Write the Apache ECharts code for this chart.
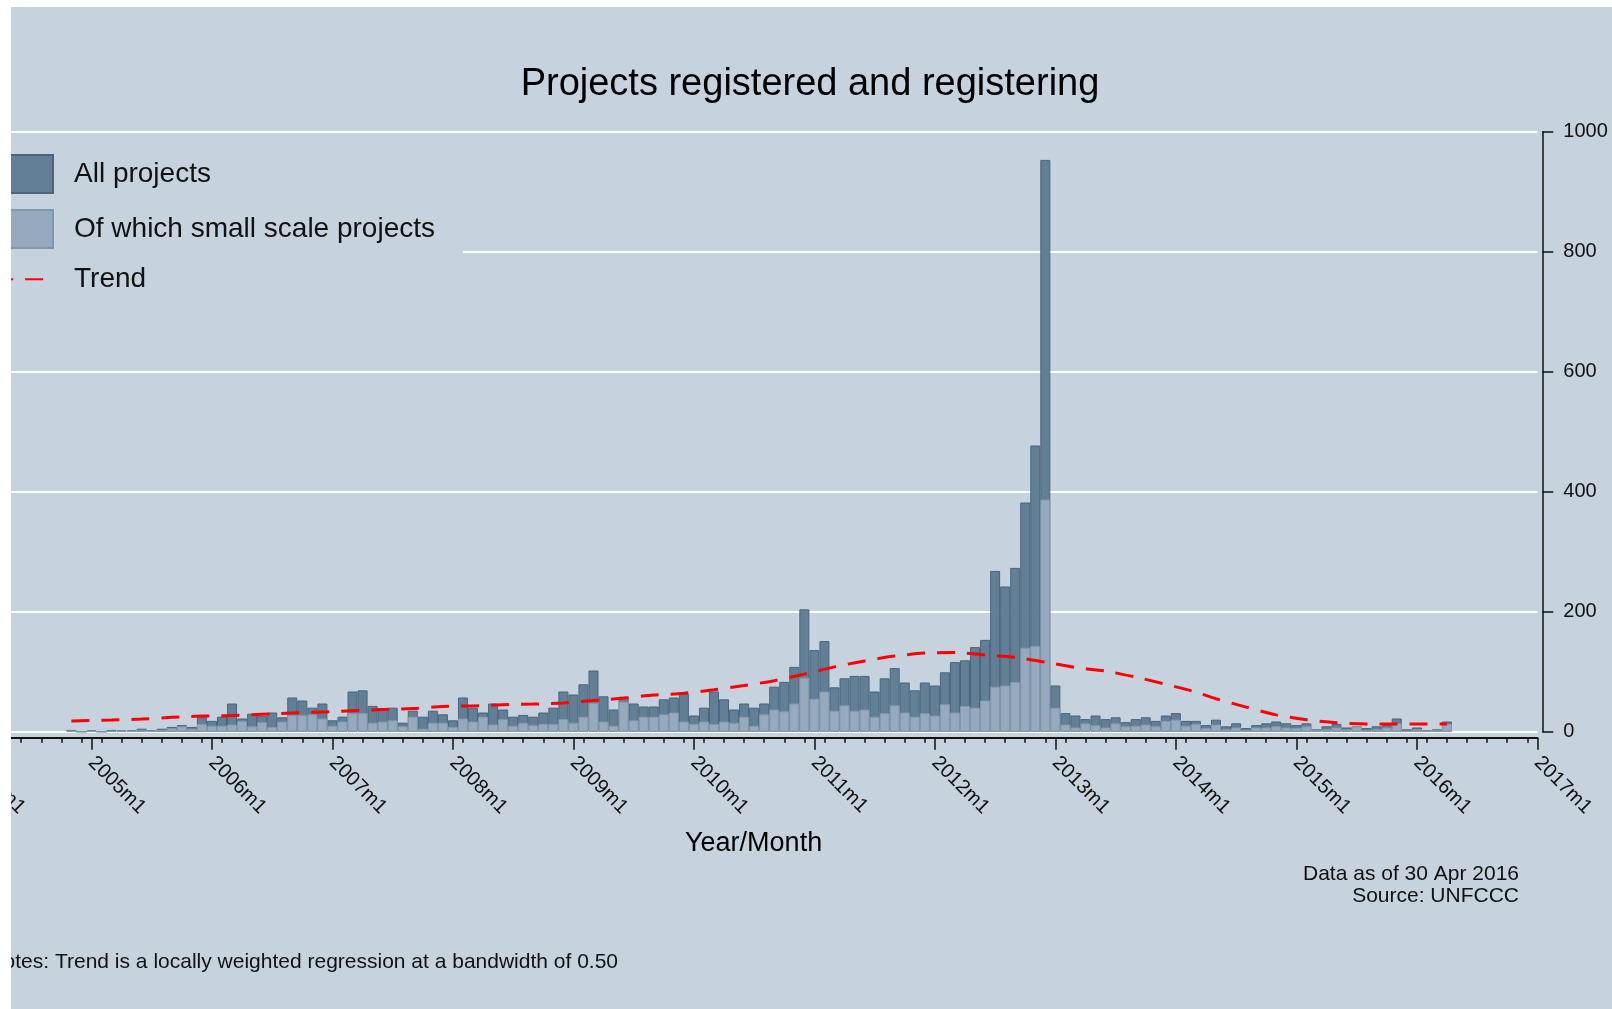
<!DOCTYPE html>
<html>
<head>
<meta charset="utf-8">
<title>Projects registered and registering</title>
<script src="https://cdn.jsdelivr.net/npm/echarts@6/dist/echarts.min.js"></script>
<style>
  html, body { margin: 0; padding: 0; background: #fff; }
  #chart { width: 1612px; height: 1009px; }
</style>
</head>
<body>
<div id="chart"></div>
<script>
// months counted from 2005m1 (= 0); bars start at 2004m11
var firstMonth = -2

var allProjects = [
  3, 0,
  2, 0, 3, 2, 2, 5, 2, 5, 8, 11, 8, 25,
  18, 25, 47, 22, 30, 26, 32, 24, 57, 52, 40, 47,
  19, 25, 67, 69, 43, 39, 40, 15, 35, 25, 35, 29,
  19, 57, 40, 32, 47, 37, 25, 28, 25, 32, 40, 67,
  62, 79, 102, 59, 37, 58, 47, 42, 42, 54, 57, 63,
  27, 40, 67, 54, 37, 47, 40, 47, 75, 83, 108, 204,
  136, 151, 74, 89, 93, 93, 67, 89, 106, 82, 69, 82,
  77, 99, 116, 119, 141, 153, 268, 242, 273, 382, 477, 953,
  77, 31, 27, 21, 27, 21, 24, 16, 21, 24, 18, 27,
  31, 18, 18, 11, 20, 9, 14, 6, 11, 14, 17, 14,
  11, 14, 4, 9, 13, 7, 9, 6, 9, 11, 22, 4,
  7, 2, 4, 17
]

var smallScale = [
  2, 0,
  1, 0, 2, 2, 1, 3, 1, 3, 6, 9, 5, 13,
  10, 10, 12, 18, 9, 16, 8, 17, 28, 28, 29, 22,
  10, 17, 31, 31, 15, 17, 19, 9, 25, 5, 15, 15,
  8, 22, 17, 25, 12, 21, 10, 15, 11, 13, 13, 21,
  15, 25, 48, 17, 10, 50, 19, 25, 25, 29, 32, 17,
  13, 17, 13, 17, 15, 25, 10, 29, 37, 34, 47, 90,
  55, 67, 35, 44, 35, 37, 25, 31, 44, 32, 25, 31,
  27, 46, 32, 43, 40, 52, 75, 77, 83, 140, 143, 387,
  40, 12, 7, 14, 11, 7, 14, 9, 10, 12, 9, 18,
  20, 10, 13, 6, 12, 4, 7, 3, 7, 7, 9, 7,
  6, 9, 3, 4, 7, 4, 9, 3, 4, 7, 14, 2,
  4, 1, 3, 13
]

// lowess trend
var trendMonths = [-2, 2, 5, 8, 11, 14, 17, 20, 23, 26, 29, 32, 35, 38, 41, 44, 47, 50, 53, 56, 59, 62, 65, 68, 71, 74, 77, 80, 83, 86, 89, 92, 95, 98, 101, 104, 107, 110, 112, 115, 118, 121, 124, 127, 130, 133, 135]
var trendValues = [18, 19.5, 21, 24, 26, 27, 29, 31, 33, 35, 37, 38.5, 42, 43, 45, 46, 48, 52, 56, 61, 64, 70, 77, 85, 96, 108, 118, 126, 131, 132, 128, 124, 116, 107, 101, 91, 79, 66, 55, 41, 28, 20, 15, 13, 13, 13, 13]

var yearLabels = ['2003m1', '2004m1', '2005m1', '2006m1', '2007m1', '2008m1', '2009m1', '2010m1', '2011m1', '2012m1', '2013m1', '2014m1', '2015m1', '2016m1', '2017m1']
var minorTickMonths = []
for (var m = -23; m < 144; m += 2) minorTickMonths.push(m)

var bg = '#c6d2de'
var font = 'Liberation Sans, Arial, sans-serif'

var chart = echarts.init(document.getElementById('chart'))

chart.setOption({
  animation: false,
  backgroundColor: bg,
  grid: { left: -149.5, width: 1686.8, top: 131.7, height: 600, containLabel: false, outerBoundsMode: 'none' },
  legend: {
    orient: 'vertical',
    left: 4,
    top: 154,
    padding: 0,
    itemWidth: 48,
    itemHeight: 38,
    itemGap: 15,
    selectedMode: false,
    z: 6,
    textStyle: { fontSize: 28, color: '#111', fontFamily: font, padding: [6, 0, 0, 16] },
    data: [
      { name: 'All projects', icon: 'rect' },
      { name: 'Of which small scale projects', icon: 'rect' },
      { name: 'Trend', itemStyle: { opacity: 0 }, lineStyle: { dashOffset: 10 } }
    ]
  },
  xAxis: [
    {
      type: 'value',
      position: 'bottom',
      min: -24,
      max: 144,
      interval: 12,
      offset: 6,
      axisLine: { show: true, onZero: false, lineStyle: { color: '#111', width: 2 } },
      axisTick: { show: true, length: 12, lineStyle: { color: '#111', width: 1.5 } },
      splitLine: { show: false },
      axisLabel: {
        rotate: -45,
        margin: 22,
        fontSize: 20,
        color: '#111',
        fontFamily: font,
        formatter: function (v) { return yearLabels[Math.round((v + 24) / 12)] || '' }
      }
    },
    {
      type: 'value',
      position: 'bottom',
      min: -24,
      max: 144,
      offset: 6,
      axisLine: { show: false, onZero: false },
      axisTick: { show: true, length: 5, customValues: minorTickMonths, lineStyle: { color: '#111', width: 1.5 } },
      axisLabel: { show: false },
      splitLine: { show: false }
    }
  ],
  yAxis: {
    type: 'value',
    position: 'right',
    min: 0,
    max: 1000,
    interval: 200,
    offset: 5,
    axisLine: { show: true, onZero: false, lineStyle: { color: '#111', width: 1.5 } },
    axisTick: { show: true, length: 11, lineStyle: { color: '#111', width: 1.5 } },
    axisLabel: { margin: 21, fontSize: 20, color: '#111', fontFamily: font, formatter: function (v) { return String(v) } },
    splitLine: { show: true, lineStyle: { color: '#ffffff', width: 2 } }
  },
  series: [
    {
      name: 'All projects',
      type: 'bar',
      barWidth: 10,
      barGap: '-100%',
      itemStyle: { color: '#627f96', borderColor: '#47657d', borderWidth: 1 },
      data: allProjects.map(function (v, i) { return [firstMonth + i, v] })
    },
    {
      name: 'Of which small scale projects',
      type: 'bar',
      barWidth: 10,
      barGap: '-100%',
      itemStyle: { color: '#97aabd', borderColor: '#8297ac', borderWidth: 1 },
      data: smallScale.map(function (v, i) { return [firstMonth + i, v] })
    },
    {
      name: 'Trend',
      type: 'line',
      symbol: 'none',
      smooth: 0.3,
      lineStyle: { color: '#ff0000', width: 3, type: [18, 12] },
      itemStyle: { color: '#ff0000' },
      data: trendMonths.map(function (m, i) { return [m, trendValues[i]] })
    }
  ],
  graphic: [
    { type: 'rect', z: 1, shape: { x: 0, y: 140, width: 463, height: 165 }, style: { fill: bg } },
    { type: 'text', z: 10, x: 810, y: 85, style: { text: 'Projects registered and registering', font: '38px ' + font, fill: '#000', align: 'center', verticalAlign: 'middle' } },
    { type: 'text', z: 10, x: 753.6, y: 844, style: { text: 'Year/Month', font: '27px ' + font, fill: '#000', align: 'center', verticalAlign: 'middle' } },
    { type: 'text', z: 10, x: 1519, y: 874, style: { text: 'Data as of 30 Apr 2016', font: '21px ' + font, fill: '#111', align: 'right', verticalAlign: 'middle' } },
    { type: 'text', z: 10, x: 1519, y: 896.5, style: { text: 'Source: UNFCCC', font: '21px ' + font, fill: '#111', align: 'right', verticalAlign: 'middle' } },
    { type: 'text', z: 10, x: 618, y: 962, style: { text: 'Notes: Trend is a locally weighted regression at a bandwidth of 0.50', font: '21px ' + font, fill: '#111', align: 'right', verticalAlign: 'middle' } },
    // white edges of the cropped screenshot
    { type: 'rect', z: 100, shape: { x: 0, y: 0, width: 11, height: 1009 }, style: { fill: '#ffffff' } },
    { type: 'rect', z: 100, shape: { x: 0, y: 0, width: 1612, height: 7 }, style: { fill: '#ffffff' } }
  ]
})
</script>
</body>
</html>
